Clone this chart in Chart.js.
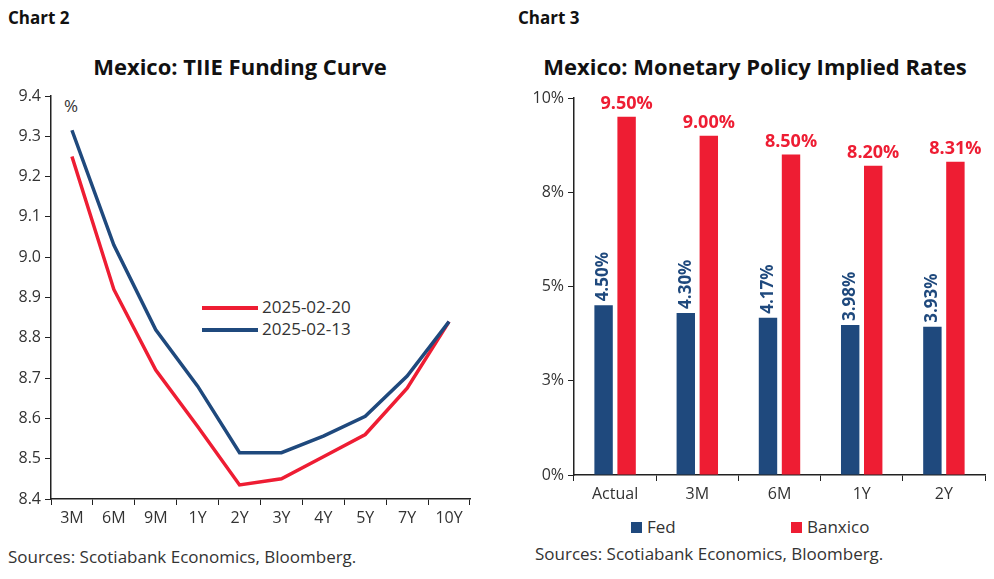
<!DOCTYPE html>
<html><head><meta charset="utf-8">
<script src="https://cdn.jsdelivr.net/npm/chart.js@4/dist/chart.umd.min.js"></script>
<style>
body{margin:0;width:994px;height:579px;background:#fff;font-family:'Open Sans',sans-serif;color:#222;position:relative;overflow:hidden}
.abs{position:absolute;white-space:nowrap}
.hd{font-weight:bold;font-size:17px;color:#111}
.tt{font-weight:bold;font-size:22px;color:#111;text-align:center}
.src{font-size:17px;color:#333}
.lg{font-size:17px;color:#333}
canvas{position:absolute}
</style></head><body>
<div class="abs hd" style="left:8px;top:6px">Chart 2</div>
<div class="abs hd" style="left:518px;top:6px">Chart 3</div>
<div class="abs tt" style="left:40px;width:400px;top:51px">Mexico: TIIE Funding Curve</div>
<div class="abs tt" style="left:520px;width:470px;top:51px">Mexico: Monetary Policy Implied Rates</div>
<div class="abs src" style="left:8px;top:545px">Sources: Scotiabank Economics, Bloomberg.</div>
<div class="abs src" style="left:535px;top:542px">Sources: Scotiabank Economics, Bloomberg.</div>
<div class="abs lg" style="left:64px;top:94px">%</div>
<div class="abs lg" style="left:202px;top:295px"><span style="display:inline-block;width:56px;height:4px;background:#ee1d33;vertical-align:middle;margin-right:4px"></span>2025-02-20</div>
<div class="abs lg" style="left:202px;top:317px"><span style="display:inline-block;width:56px;height:4px;background:#1f497d;vertical-align:middle;margin-right:4px"></span>2025-02-13</div>
<div class="abs lg" style="left:631px;top:515px"><span style="display:inline-block;width:11px;height:11px;background:#1f497d;margin-right:5px"></span>Fed</div>
<div class="abs lg" style="left:791px;top:515px"><span style="display:inline-block;width:11px;height:11px;background:#ee1d33;margin-right:5px"></span>Banxico</div>
<canvas id="c1" style="left:0;top:80px;width:490px;height:450px" width="490" height="450"></canvas>
<canvas id="c2" style="left:510px;top:80px;width:484px;height:450px" width="484" height="450"></canvas>
<script>
const tenors=['3M','6M','9M','1Y','2Y','3Y','4Y','5Y','7Y','10Y'];
const curve0220=[9.25,8.92,8.72,8.58,8.435,8.45,8.505,8.56,8.675,8.84];
const curve0213=[9.315,9.03,8.82,8.68,8.515,8.515,8.556,8.605,8.705,8.84];
const horizons=['Actual','3M','6M','1Y','2Y'];
const fed=[4.50,4.30,4.17,3.98,3.93];
const banxico=[9.50,9.00,8.50,8.20,8.31];
const RED='#ee1d33',BLUE='#1f497d';
const tickFont={family:'Open Sans',size:16};
Chart.defaults.animation=false;
Chart.defaults.responsive=false;
new Chart(document.getElementById('c1'),{type:'line',
data:{labels:tenors,datasets:[
{data:curve0213,borderColor:BLUE,borderWidth:3.5,pointRadius:0,tension:0},
{data:curve0220,borderColor:RED,borderWidth:3.5,pointRadius:0,tension:0}]},
options:{plugins:{legend:{display:false},tooltip:{enabled:false}},
layout:{padding:{top:16,right:20,bottom:0,left:0}},
scales:{
x:{offset:true,grid:{offset:true,drawOnChartArea:false,color:'#222',tickLength:6},border:{color:'#222',width:1.5},
ticks:{font:tickFont,color:'#333',padding:4},afterFit:s=>{s.height=31}},
y:{min:8.4,max:9.4,grid:{drawOnChartArea:false,color:'#222',tickLength:6},border:{color:'#222',width:1.5},
ticks:{stepSize:0.1,font:tickFont,color:'#333',padding:4,callback:v=>v.toFixed(1)},afterFit:s=>{s.width=51}}}}});
const labelPlugin={id:'lbl',afterDatasetsDraw(ch){
const c=ch.ctx;
ch.getDatasetMeta(1).data.forEach((b,i)=>{c.save();c.fillStyle=RED;c.font='bold 18px "Open Sans"';c.textAlign='center';c.textBaseline='bottom';
c.fillText(banxico[i].toFixed(2)+'%',b.x,b.y-4);c.restore();});
ch.getDatasetMeta(0).data.forEach((b,i)=>{c.save();c.fillStyle=BLUE;c.font='bold 17px "Open Sans"';c.translate(b.x,b.y-4);c.rotate(-Math.PI/2);
c.textAlign='left';c.textBaseline='middle';c.fillText(fed[i].toFixed(2)+'%',0,0);c.restore();});
}};
new Chart(document.getElementById('c2'),{type:'bar',
data:{labels:horizons,datasets:[
{data:fed,backgroundColor:BLUE},
{data:banxico,backgroundColor:RED}]},
options:{plugins:{legend:{display:false},tooltip:{enabled:false}},
datasets:{bar:{categoryPercentage:0.56,barPercentage:0.8}},
layout:{padding:{top:18,right:9,bottom:0,left:0}},
scales:{
x:{grid:{offset:true,drawOnChartArea:false,color:'#222',tickLength:6},border:{color:'#222',width:1.5},
ticks:{font:tickFont,color:'#333',padding:4},afterFit:s=>{s.height=55}},
y:{min:0,max:10,grid:{drawOnChartArea:false,color:'#222',tickLength:6},border:{color:'#222',width:1.5},
ticks:{stepSize:2.5,font:tickFont,color:'#333',padding:4,callback:v=>Math.round(v)+'%'},afterFit:s=>{s.width=64}}}},
plugins:[labelPlugin]});
</script></body></html>
